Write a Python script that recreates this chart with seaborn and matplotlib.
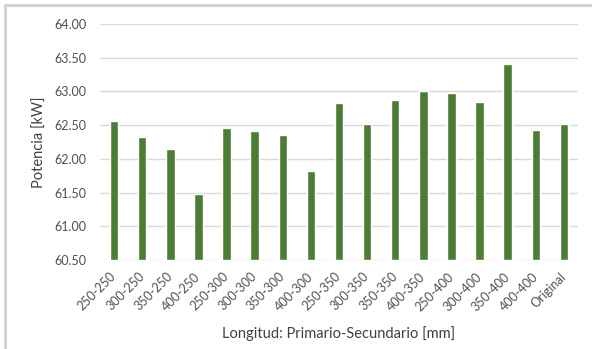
import matplotlib
matplotlib.use("Agg")
import matplotlib.pyplot as plt
from matplotlib.lines import Line2D
import seaborn as sns
import pandas as pd

categories = ["250-250", "300-250", "350-250", "400-250",
              "250-300", "300-300", "350-300", "400-300",
              "250-350", "300-350", "350-350", "400-350",
              "250-400", "300-400", "350-400", "400-400", "Original"]
potencia = [62.56, 62.32, 62.14, 61.48,
            62.46, 62.42, 62.36, 61.82,
            62.83, 62.51, 62.88, 63.01,
            62.97, 62.85, 63.40, 62.43, 62.51]
yticks = [60.5, 61.0, 61.5, 62.0, 62.5, 63.0, 63.5, 64.0]

df = pd.DataFrame({"Longitud": categories, "Potencia": potencia})

sns.set_theme(style="white")
plt.rcParams["font.family"] = ["Lato", "DejaVu Sans"]

W, H = 592, 349
fig = plt.figure(figsize=(W / 100, H / 100), dpi=100)
ax = fig.add_axes([100 / W, 1 - 260 / H, 478 / W, 236 / H])

base = 60.5
plot_df = df.assign(Altura=df["Potencia"] - base)
sns.barplot(data=plot_df, x="Longitud", y="Altura", color="#4b7d35",
            width=0.3, saturation=1, bottom=base, ax=ax)

ax.set_ylim(60.5, 64.0)
ax.set_yticks(yticks)
ax.set_yticklabels([f"{v:.2f}" for v in yticks])
ax.set_xlim(-0.5, len(categories) - 0.5)
ax.yaxis.grid(True, color="#d9d9d9", linewidth=1.0)
ax.set_axisbelow(True)
for s in ax.spines.values():
    s.set_visible(False)

ax.tick_params(axis="y", length=0, pad=10, labelsize=9, labelcolor="#505050")
ax.tick_params(axis="x", length=0, pad=10.5, labelsize=9, labelcolor="#505050")
plt.setp(ax.get_xticklabels(), rotation=45, ha="right", va="center",
         rotation_mode="anchor")

ax.set_ylabel("Potencia [kW]", fontsize=10.5, color="#404040")
ax.set_xlabel("Longitud: Primario-Secundario [mm]", fontsize=10.5, color="#404040")
ax.xaxis.set_label_coords(0.5, -(334 - 260) / 236, transform=ax.transAxes)
ax.xaxis.label.set_va("center")
ax.yaxis.set_label_coords((40 - 100) / 478, 0.5, transform=ax.transAxes)
ax.yaxis.label.set_va("center")

# light frame on the top and left edges
fig.add_artist(Line2D([5 / W, 1], [1 - 5 / H, 1 - 5 / H], color="#d0d0d0", linewidth=2))
fig.add_artist(Line2D([5 / W, 5 / W], [0, 1 - 5 / H], color="#d0d0d0", linewidth=2))

fig.savefig("out.png", dpi=100)
